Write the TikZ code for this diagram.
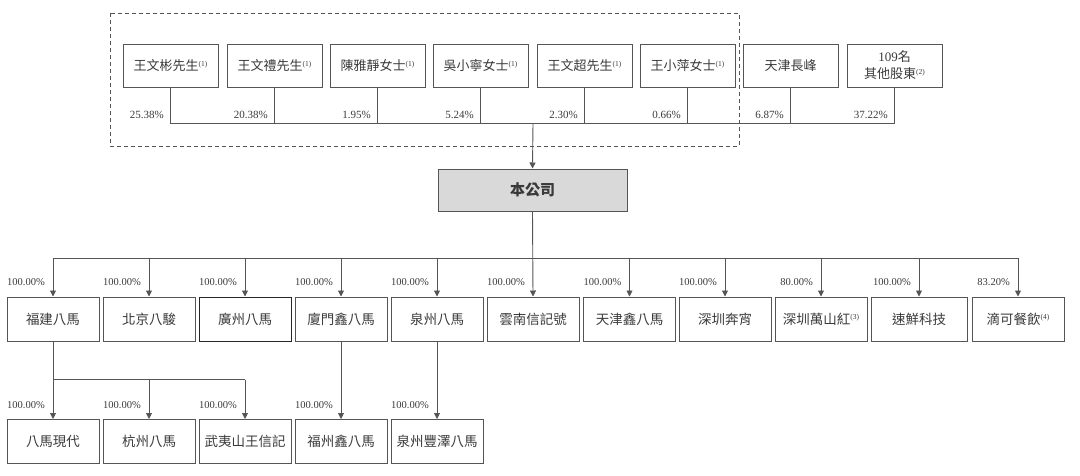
\documentclass[tikz,border=0pt]{standalone}
\usepackage{fontspec}
\setmainfont{Liberation Serif}
\newfontfamily\cjk{Noto Sans CJK TC}
\usetikzlibrary{arrows.meta}
\definecolor{linegray}{HTML}{555555}
\definecolor{boxgray}{HTML}{D9D9D9}
\definecolor{textgray}{HTML}{3A3A3A}
\newcommand{\supnote}[1]{\raisebox{0.6ex}{\rmfamily\fontsize{7.5}{7.5}\selectfont(#1)}}
\tikzset{
  holder/.style={draw=linegray, line width=1pt, minimum width=95pt, minimum height=43pt, inner sep=0pt, align=center, text=textgray, font=\cjk\fontsize{13}{17}\selectfont},
  subbox/.style={holder, minimum width=92pt, minimum height=44pt, font=\cjk\fontsize{13.5}{16}\selectfont},
  pct/.style={anchor=base east, inner sep=0pt, text=textgray, font=\fontsize{10.5}{12}\selectfont},
  link/.style={draw=linegray, line width=0.9pt},
  arr/.style={link, -{Triangle[width=6pt,length=6pt]}},
}
\begin{document}
\begin{tikzpicture}[x=1pt,y=-1pt]
\useasboundingbox (0,0) rectangle (1080,475);
\draw[draw=linegray, line width=0.9pt, dash pattern=on 4pt off 3pt] (110,13) rectangle (739,146);

\node[holder] (s1) at (170.5,65.5) {王文彬先生\supnote{1}};
\node[holder] (s2) at (274.5,65.5) {王文禮先生\supnote{1}};
\node[holder] (s3) at (377.5,65.5) {陳雅靜女士\supnote{1}};
\node[holder] (s4) at (480.5,65.5) {吳小寧女士\supnote{1}};
\node[holder] (s5) at (584.5,65.5) {王文超先生\supnote{1}};
\node[holder] (s6) at (687.5,65.5) {王小萍女士\supnote{1}};
\node[holder] (s7) at (790.5,65.5) {天津長峰};
\node[holder] (s8) at (894.5,65.5) {{\rmfamily 109}名\\其他股東\supnote{2}};

\coordinate (top) at (533,123);
\draw[link] (s1.south) -- (s1.south |- top) -- (s8.south |- top) -- (s8.south);
\draw[link] (s2.south) -- (s2.south |- top);
\draw[link] (s3.south) -- (s3.south |- top);
\draw[link] (s4.south) -- (s4.south |- top);
\draw[link] (s5.south) -- (s5.south |- top);
\draw[link] (s6.south) -- (s6.south |- top);
\draw[link] (s7.south) -- (s7.south |- top);

\node[pct, font=\fontsize{11}{12}\selectfont] (p1) at (164,118.5) {25.38\%};
\node[pct, font=\fontsize{11}{12}\selectfont] (p2) at (268,118.5) {20.38\%};
\node[pct, font=\fontsize{11}{12}\selectfont] (p3) at (371,118.5) {1.95\%};
\node[pct, font=\fontsize{11}{12}\selectfont] (p4) at (474,118.5) {5.24\%};
\node[pct, font=\fontsize{11}{12}\selectfont] (p5) at (578,118.5) {2.30\%};
\node[pct, font=\fontsize{11}{12}\selectfont] (p6) at (681,118.5) {0.66\%};
\node[pct, font=\fontsize{11}{12}\selectfont] (p7) at (784,118.5) {6.87\%};
\node[pct, font=\fontsize{11}{12}\selectfont] (p8) at (888,118.5) {37.22\%};

\node[draw=linegray, fill=boxgray, line width=1pt, minimum width=189pt, minimum height=42pt, text=textgray, font=\cjk\bfseries\fontsize{15}{18}\selectfont] (co) at (532.5,190) {本公司};
\draw[arr] (top) -- (co.north);

\node[subbox] (c1) at (53,319) {福建八馬};
\node[subbox] (c2) at (149,319) {北京八駿};
\node[subbox, draw=black!85] (c3) at (245,319) {廣州八馬};
\node[subbox] (c4) at (341,319) {廈門鑫八馬};
\node[subbox] (c5) at (437,319) {泉州八馬};
\node[subbox] (c6) at (533,319) {雲南信記號};
\node[subbox] (c7) at (629.5,319) {天津鑫八馬};
\node[subbox] (c8) at (725,319) {深圳奔宵};
\node[subbox] (c9) at (821,319) {深圳萬山紅\supnote{3}};
\node[subbox, minimum width=96pt] (c10) at (919,319) {速鮮科技};
\node[subbox] (c11) at (1018,319) {滴可餐飲\supnote{4}};

\coordinate (mid) at (533,258);
\draw[link] (c1.north |- mid) -- (c11.north |- mid);
\draw[arr] (co.south) -- (c6.north);
\draw[arr] (c1.north |- mid) -- (c1.north);
\draw[arr] (c2.north |- mid) -- (c2.north);
\draw[arr] (c3.north |- mid) -- (c3.north);
\draw[arr] (c4.north |- mid) -- (c4.north);
\draw[arr] (c5.north |- mid) -- (c5.north);
\draw[arr] (c7.north |- mid) -- (c7.north);
\draw[arr] (c8.north |- mid) -- (c8.north);
\draw[arr] (c9.north |- mid) -- (c9.north);
\draw[arr] (c10.north |- mid) -- (c10.north);
\draw[arr] (c11.north |- mid) -- (c11.north);

\node[pct] (q1) at (45,285.5) {100.00\%};
\node[pct] (q2) at (141,285.5) {100.00\%};
\node[pct] (q3) at (237,285.5) {100.00\%};
\node[pct] (q4) at (333,285.5) {100.00\%};
\node[pct] (q5) at (429,285.5) {100.00\%};
\node[pct] (q6) at (525,285.5) {100.00\%};
\node[pct] (q7) at (621.5,285.5) {100.00\%};
\node[pct] (q8) at (717,285.5) {100.00\%};
\node[pct] (q9) at (813,285.5) {80.00\%};
\node[pct] (q10) at (911,285.5) {100.00\%};
\node[pct] (q11) at (1010,285.5) {83.20\%};

\node[subbox] (d1) at (53,441.5) {八馬現代};
\node[subbox] (d2) at (149,441.5) {杭州八馬};
\node[subbox] (d3) at (245,441.5) {武夷山王信記};
\node[subbox] (d4) at (341,441.5) {福州鑫八馬};
\node[subbox] (d5) at (437,441.5) {泉州豐澤八馬};

\coordinate (low) at (53,379.5);
\draw[link] (low) -- (d3.north |- low);
\draw[arr] (c1.south) -- (d1.north);
\draw[arr] (d2.north |- low) -- (d2.north);
\draw[arr] (d3.north |- low) -- (d3.north);
\draw[arr] (c4.south) -- (d4.north);
\draw[arr] (c5.south) -- (d5.north);

\node[pct] (r1) at (45,408.5) {100.00\%};
\node[pct] (r2) at (141,408.5) {100.00\%};
\node[pct] (r3) at (237,408.5) {100.00\%};
\node[pct] (r4) at (333,408.5) {100.00\%};
\node[pct] (r5) at (429,408.5) {100.00\%};
\end{tikzpicture}
\end{document}
